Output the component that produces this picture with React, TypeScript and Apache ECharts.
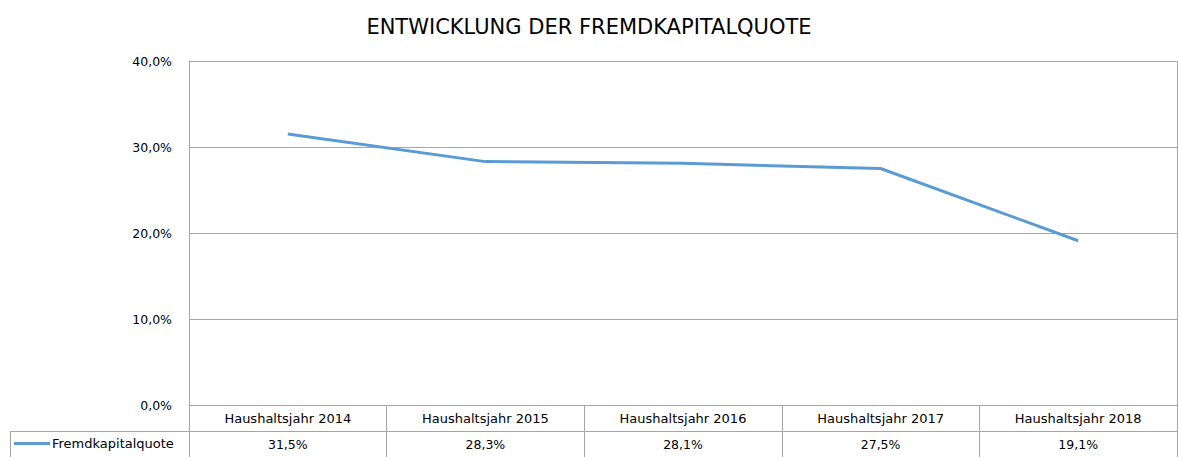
import React, { useEffect, useRef } from "react";
import * as echarts from "echarts";

const categories = ["Haushaltsjahr 2014", "Haushaltsjahr 2015", "Haushaltsjahr 2016", "Haushaltsjahr 2017", "Haushaltsjahr 2018"];
const values = [0.315, 0.283, 0.281, 0.275, 0.191];
const seriesName = "Fremdkapitalquote";
const title = "ENTWICKLUNG DER FREMDKAPITALQUOTE";

const pct = (v: number) => (v * 100).toFixed(1).replace(".", ",") + "%";

export default function App() {
  const ref = useRef<HTMLDivElement>(null);
  useEffect(() => {
    const chart = echarts.init(ref.current!, null, { renderer: "svg" });
    const font = "DejaVu Sans";
    const gridColor = "#a6a6a6";
    chart.setOption({
      animation: false,
      textStyle: { fontFamily: font },
      title: {
        text: title,
        left: "center",
        top: 11,
        textStyle: { fontFamily: font, fontSize: 21, fontWeight: "normal", color: "#000" },
      },
      legend: {
        data: [{ name: seriesName, icon: "rect" }],
        left: 14,
        top: 437,
        itemWidth: 36,
        itemHeight: 3,
        itemGap: 2,
        textStyle: { fontFamily: font, fontSize: 13, color: "#000", padding: [0, 0, 0, -3] },
        padding: 0,
      },
      grid: { left: 189, right: 1, top: 61, bottom: 52 },
      xAxis: {
        type: "category",
        data: categories,
        boundaryGap: true,
        axisLine: { show: true, lineStyle: { color: gridColor } },
        axisTick: { show: true, length: 52, lineStyle: { color: gridColor } },
        axisLabel: {
          margin: 0,
          interval: 0,
          color: "#000",
          formatter: (v: string, i: number) => `{c|${v}}\n{v|${pct(values[i])}}`,
          rich: {
            c: { fontFamily: font, fontSize: 13, lineHeight: 26, color: "#000" },
            v: { fontFamily: font, fontSize: 12.5, lineHeight: 26, color: "#000" },
          },
        },
        splitLine: { show: false },
      },
      yAxis: {
        type: "value",
        min: 0,
        max: 0.4,
        interval: 0.1,
        axisLine: { show: true, lineStyle: { color: gridColor } },
        axisTick: { show: false },
        axisLabel: { margin: 17, fontFamily: font, fontSize: 12.5, color: "#000", formatter: (v: number) => pct(v) },
        splitLine: { show: true, lineStyle: { color: gridColor } },
      },
      graphic: [
        { type: "line", shape: { x1: 10, y1: 431.5, x2: 1178, y2: 431.5 }, style: { stroke: gridColor, lineWidth: 1 } },
        { type: "line", shape: { x1: 10.5, y1: 431, x2: 10.5, y2: 457 }, style: { stroke: gridColor, lineWidth: 1 } },
        { type: "line", shape: { x1: 1177.5, y1: 61, x2: 1177.5, y2: 457 }, style: { stroke: gridColor, lineWidth: 1 } },
      ],
      series: [
        {
          name: seriesName,
          type: "line",
          data: values,
          symbol: "none",
          lineStyle: { color: "#5b9bd5", width: 3 },
          itemStyle: { color: "#5b9bd5" },
        },
      ],
    });
    return () => chart.dispose();
  }, []);
  return <div ref={ref} style={{ width: 1178, height: 457, position: "absolute", left: 0, top: 0 }} />;
}
